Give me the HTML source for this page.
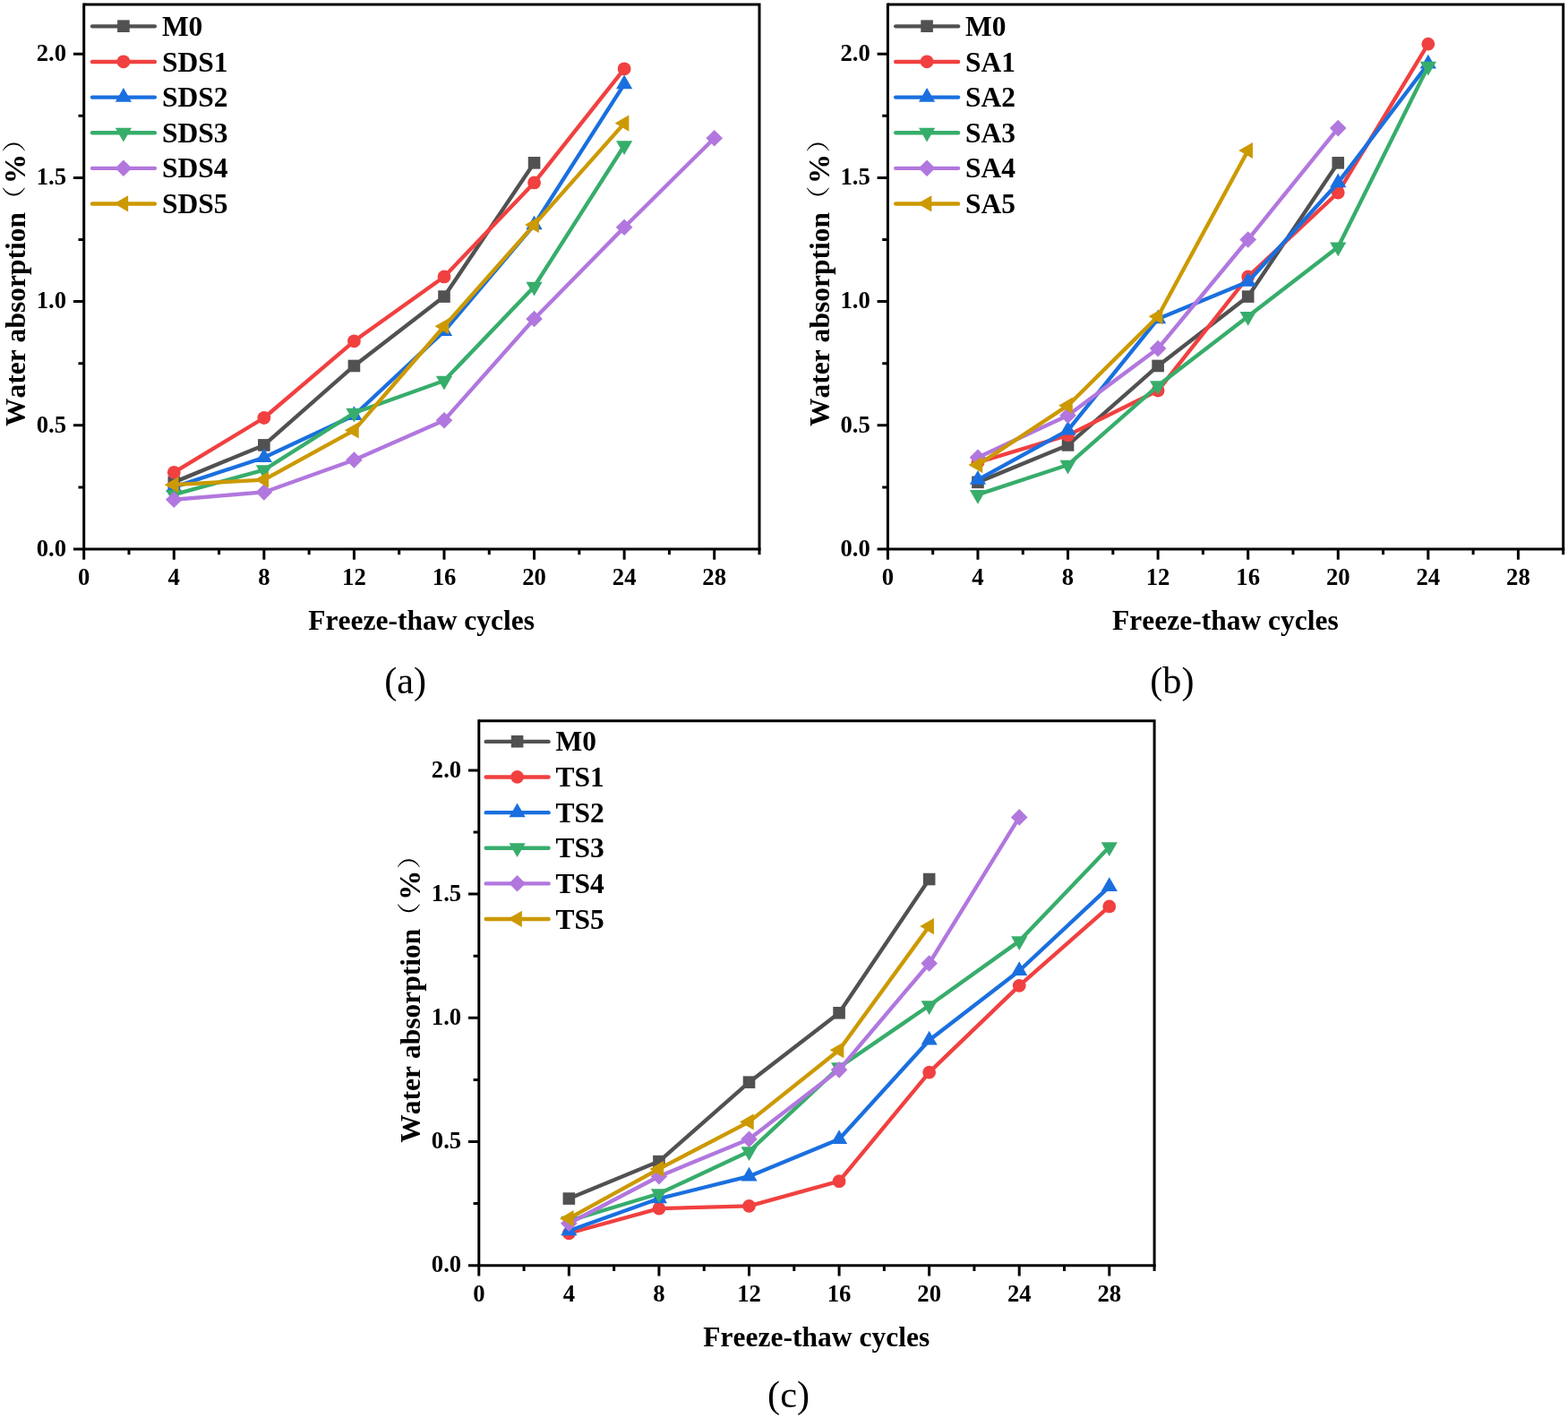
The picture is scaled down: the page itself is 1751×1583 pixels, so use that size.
<!DOCTYPE html>
<html lang="en">
<head>
<meta charset="utf-8">
<title>Water absorption - Freeze-thaw cycles</title>
<style>
html, body { margin: 0; padding: 0; background: #ffffff; }
body { width: 1751px; height: 1583px; overflow: hidden; }
svg { display: block; }
text { font-family: "Liberation Serif", "Noto Serif CJK SC", serif; fill: #000000; font-kerning: none; }
.tk { font-size: 26.7px; font-weight: bold; }
.lg { font-size: 31.5px; font-weight: bold; }
.ax { font-size: 31.53px; font-weight: bold; }
.cp { font-size: 42.3px; font-weight: normal; }
.pr { font-size: 26.5px; font-weight: 400; }
.pc { font-size: 33.4px; }
</style>
</head>
<body>
<svg width="1751" height="1583" viewBox="0 0 1751 1583">
<rect x="0" y="0" width="1751" height="1583" fill="#ffffff"/>
<g>
<polyline points="194.27,538.37 294.84,496.91 395.42,408.46 495.99,331.07 596.56,181.82" fill="none" stroke="#515151" stroke-width="4.35" stroke-linejoin="round" stroke-linecap="round"/>
<rect x="187.47" y="531.57" width="13.6" height="13.6" fill="#515151"/>
<rect x="288.04" y="490.11" width="13.6" height="13.6" fill="#515151"/>
<rect x="388.62" y="401.66" width="13.6" height="13.6" fill="#515151"/>
<rect x="489.19" y="324.27" width="13.6" height="13.6" fill="#515151"/>
<rect x="589.76" y="175.02" width="13.6" height="13.6" fill="#515151"/>
<polyline points="194.27,527.32 294.84,466.51 395.42,380.82 495.99,308.96 596.56,203.93 697.13,76.78" fill="none" stroke="#F14040" stroke-width="4.35" stroke-linejoin="round" stroke-linecap="round"/>
<circle cx="194.27" cy="527.32" r="7.4" fill="#F14040"/>
<circle cx="294.84" cy="466.51" r="7.4" fill="#F14040"/>
<circle cx="395.42" cy="380.82" r="7.4" fill="#F14040"/>
<circle cx="495.99" cy="308.96" r="7.4" fill="#F14040"/>
<circle cx="596.56" cy="203.93" r="7.4" fill="#F14040"/>
<circle cx="697.13" cy="76.78" r="7.4" fill="#F14040"/>
<polyline points="194.27,543.9 294.84,510.73 395.42,463.74 495.99,369.77 596.56,250.92 697.13,93.92" fill="none" stroke="#1A6FDF" stroke-width="4.35" stroke-linejoin="round" stroke-linecap="round"/>
<polygon points="194.27,533.4 203.37,549.15 185.17,549.15" fill="#1A6FDF"/>
<polygon points="294.84,500.23 303.94,515.98 285.74,515.98" fill="#1A6FDF"/>
<polygon points="395.42,453.24 404.52,468.99 386.32,468.99" fill="#1A6FDF"/>
<polygon points="495.99,359.27 505.09,375.02 486.89,375.02" fill="#1A6FDF"/>
<polygon points="596.56,240.42 605.66,256.17 587.46,256.17" fill="#1A6FDF"/>
<polygon points="697.13,83.42 706.23,99.17 688.03,99.17" fill="#1A6FDF"/>
<polyline points="194.27,552.19 294.84,524.55 395.42,460.98 495.99,425.05 596.56,320.02 697.13,162.47" fill="none" stroke="#37AD6B" stroke-width="4.35" stroke-linejoin="round" stroke-linecap="round"/>
<polygon points="185.17,546.94 203.37,546.94 194.27,562.69" fill="#37AD6B"/>
<polygon points="285.74,519.3 303.94,519.3 294.84,535.05" fill="#37AD6B"/>
<polygon points="386.32,455.73 404.52,455.73 395.42,471.48" fill="#37AD6B"/>
<polygon points="486.89,419.8 505.09,419.8 495.99,435.55" fill="#37AD6B"/>
<polygon points="587.46,314.77 605.66,314.77 596.56,330.52" fill="#37AD6B"/>
<polygon points="688.03,157.22 706.23,157.22 697.13,172.97" fill="#37AD6B"/>
<polyline points="194.27,557.72 294.84,549.43 395.42,513.5 495.99,469.27 596.56,355.95 697.13,253.68 797.7,154.18" fill="none" stroke="#B177DE" stroke-width="4.35" stroke-linejoin="round" stroke-linecap="round"/>
<polygon points="194.27,548.42 203.57,557.72 194.27,567.02 184.97,557.72" fill="#B177DE"/>
<polygon points="294.84,540.13 304.14,549.43 294.84,558.73 285.54,549.43" fill="#B177DE"/>
<polygon points="395.42,504.2 404.72,513.5 395.42,522.8 386.12,513.5" fill="#B177DE"/>
<polygon points="495.99,459.97 505.29,469.27 495.99,478.57 486.69,469.27" fill="#B177DE"/>
<polygon points="596.56,346.65 605.86,355.95 596.56,365.25 587.26,355.95" fill="#B177DE"/>
<polygon points="697.13,244.38 706.43,253.68 697.13,262.98 687.83,253.68" fill="#B177DE"/>
<polygon points="797.7,144.88 807,154.18 797.7,163.48 788.4,154.18" fill="#B177DE"/>
<polyline points="194.27,541.14 294.84,535.61 395.42,480.33 495.99,364.24 596.56,250.92 697.13,137.59" fill="none" stroke="#CC9900" stroke-width="4.35" stroke-linejoin="round" stroke-linecap="round"/>
<polygon points="183.77,541.14 199.52,532.04 199.52,550.24" fill="#CC9900"/>
<polygon points="284.34,535.61 300.09,526.51 300.09,544.71" fill="#CC9900"/>
<polygon points="384.92,480.33 400.67,471.23 400.67,489.43" fill="#CC9900"/>
<polygon points="485.49,364.24 501.24,355.14 501.24,373.34" fill="#CC9900"/>
<polygon points="586.06,250.92 601.81,241.82 601.81,260.02" fill="#CC9900"/>
<polygon points="686.63,137.59 702.38,128.49 702.38,146.69" fill="#CC9900"/>
<path d="M93.7 5 H848 V613" fill="none" stroke="#000" stroke-width="3"/>
<path d="M93.7 5 V613 H848" fill="none" stroke="#000" stroke-width="3" stroke-linecap="square"/>
<path d="M93.7 613 v11.8 M143.99 613 v6.2 M194.27 613 v11.8 M244.56 613 v6.2 M294.84 613 v11.8 M345.13 613 v6.2 M395.42 613 v11.8 M445.7 613 v6.2 M495.99 613 v11.8 M546.27 613 v6.2 M596.56 613 v11.8 M646.85 613 v6.2 M697.13 613 v11.8 M747.42 613 v6.2 M797.7 613 v11.8 M847.99 613 v6.2 M93.7 613 h-11.8 M93.7 543.9 h-6.2 M93.7 474.8 h-11.8 M93.7 405.7 h-6.2 M93.7 336.6 h-11.8 M93.7 267.5 h-6.2 M93.7 198.4 h-11.8 M93.7 129.3 h-6.2 M93.7 60.2 h-11.8" fill="none" stroke="#000" stroke-width="3"/>
<text class="tk" x="93.7" y="652.8" text-anchor="middle">0</text>
<text class="tk" x="194.27" y="652.8" text-anchor="middle">4</text>
<text class="tk" x="294.84" y="652.8" text-anchor="middle">8</text>
<text class="tk" x="395.42" y="652.8" text-anchor="middle">12</text>
<text class="tk" x="495.99" y="652.8" text-anchor="middle">16</text>
<text class="tk" x="596.56" y="652.8" text-anchor="middle">20</text>
<text class="tk" x="697.13" y="652.8" text-anchor="middle">24</text>
<text class="tk" x="797.7" y="652.8" text-anchor="middle">28</text>
<text class="tk" x="74.1" y="620.75" text-anchor="end">0.0</text>
<text class="tk" x="74.1" y="482.55" text-anchor="end">0.5</text>
<text class="tk" x="74.1" y="344.35" text-anchor="end">1.0</text>
<text class="tk" x="74.1" y="206.15" text-anchor="end">1.5</text>
<text class="tk" x="74.1" y="67.95" text-anchor="end">2.0</text>
<text class="ax" x="470.7" y="703.3" text-anchor="middle">Freeze-thaw cycles</text>
<text class="ax" transform="translate(27.9 476) rotate(-90)" x="0" y="0">Water absorption <tspan class="pr" x="236.9" dy="-2.75" textLength="31.5" lengthAdjust="spacingAndGlyphs">（</tspan><tspan class="pc" x="270.7" dy="2.75">%</tspan><tspan class="pr" x="305.5" dy="-2.75" textLength="31.5" lengthAdjust="spacingAndGlyphs">）</tspan></text>
<line x1="103" y1="29.35" x2="172.9" y2="29.35" stroke="#515151" stroke-width="4.35" stroke-linecap="round"/>
<rect x="131.1" y="22.4" width="13.6" height="13.6" fill="#515151"/>
<text class="lg" x="180.9" y="39.9">M0</text>
<line x1="103" y1="68.97" x2="172.9" y2="68.97" stroke="#F14040" stroke-width="4.35" stroke-linecap="round"/>
<circle cx="137.9" cy="68.82" r="7.4" fill="#F14040"/>
<text class="lg" x="180.9" y="79.52">SDS1</text>
<line x1="103" y1="108.59" x2="172.9" y2="108.59" stroke="#1A6FDF" stroke-width="4.35" stroke-linecap="round"/>
<polygon points="137.9,97.94 147,113.69 128.8,113.69" fill="#1A6FDF"/>
<text class="lg" x="180.9" y="119.14">SDS2</text>
<line x1="103" y1="148.21" x2="172.9" y2="148.21" stroke="#37AD6B" stroke-width="4.35" stroke-linecap="round"/>
<polygon points="128.8,142.81 147,142.81 137.9,158.56" fill="#37AD6B"/>
<text class="lg" x="180.9" y="158.76">SDS3</text>
<line x1="103" y1="187.83" x2="172.9" y2="187.83" stroke="#B177DE" stroke-width="4.35" stroke-linecap="round"/>
<polygon points="137.9,178.38 147.2,187.68 137.9,196.98 128.6,187.68" fill="#B177DE"/>
<text class="lg" x="180.9" y="198.38">SDS4</text>
<line x1="103" y1="227.45" x2="172.9" y2="227.45" stroke="#CC9900" stroke-width="4.35" stroke-linecap="round"/>
<polygon points="127.4,227.3 143.15,218.2 143.15,236.4" fill="#CC9900"/>
<text class="lg" x="180.9" y="238">SDS5</text>
<text class="cp" x="452.7" y="773.6" text-anchor="middle">(a)</text>
</g>
<g>
<polyline points="1091.97,538.37 1192.54,496.91 1293.12,408.46 1393.69,331.07 1494.26,181.82" fill="none" stroke="#515151" stroke-width="4.35" stroke-linejoin="round" stroke-linecap="round"/>
<rect x="1085.17" y="531.57" width="13.6" height="13.6" fill="#515151"/>
<rect x="1185.74" y="490.11" width="13.6" height="13.6" fill="#515151"/>
<rect x="1286.32" y="401.66" width="13.6" height="13.6" fill="#515151"/>
<rect x="1386.89" y="324.27" width="13.6" height="13.6" fill="#515151"/>
<rect x="1487.46" y="175.02" width="13.6" height="13.6" fill="#515151"/>
<polyline points="1091.97,516.26 1192.54,485.86 1293.12,436.1 1393.69,308.96 1494.26,214.98 1594.83,49.14" fill="none" stroke="#F14040" stroke-width="4.35" stroke-linejoin="round" stroke-linecap="round"/>
<circle cx="1091.97" cy="516.26" r="7.4" fill="#F14040"/>
<circle cx="1192.54" cy="485.86" r="7.4" fill="#F14040"/>
<circle cx="1293.12" cy="436.1" r="7.4" fill="#F14040"/>
<circle cx="1393.69" cy="308.96" r="7.4" fill="#F14040"/>
<circle cx="1494.26" cy="214.98" r="7.4" fill="#F14040"/>
<circle cx="1594.83" cy="49.14" r="7.4" fill="#F14040"/>
<polyline points="1091.97,535.61 1192.54,480.33 1293.12,355.95 1393.69,314.49 1494.26,203.93 1594.83,71.26" fill="none" stroke="#1A6FDF" stroke-width="4.35" stroke-linejoin="round" stroke-linecap="round"/>
<polygon points="1091.97,525.11 1101.07,540.86 1082.87,540.86" fill="#1A6FDF"/>
<polygon points="1192.54,469.83 1201.64,485.58 1183.44,485.58" fill="#1A6FDF"/>
<polygon points="1293.12,345.45 1302.22,361.2 1284.02,361.2" fill="#1A6FDF"/>
<polygon points="1393.69,303.99 1402.79,319.74 1384.59,319.74" fill="#1A6FDF"/>
<polygon points="1494.26,193.43 1503.36,209.18 1485.16,209.18" fill="#1A6FDF"/>
<polygon points="1594.83,60.76 1603.93,76.51 1585.73,76.51" fill="#1A6FDF"/>
<polyline points="1091.97,552.19 1192.54,519.02 1293.12,430.58 1393.69,353.18 1494.26,275.79 1594.83,74.02" fill="none" stroke="#37AD6B" stroke-width="4.35" stroke-linejoin="round" stroke-linecap="round"/>
<polygon points="1082.87,546.94 1101.07,546.94 1091.97,562.69" fill="#37AD6B"/>
<polygon points="1183.44,513.77 1201.64,513.77 1192.54,529.52" fill="#37AD6B"/>
<polygon points="1284.02,425.33 1302.22,425.33 1293.12,441.08" fill="#37AD6B"/>
<polygon points="1384.59,347.93 1402.79,347.93 1393.69,363.68" fill="#37AD6B"/>
<polygon points="1485.16,270.54 1503.36,270.54 1494.26,286.29" fill="#37AD6B"/>
<polygon points="1585.73,68.77 1603.93,68.77 1594.83,84.52" fill="#37AD6B"/>
<polyline points="1091.97,510.73 1192.54,463.74 1293.12,389.12 1393.69,267.5 1494.26,143.12" fill="none" stroke="#B177DE" stroke-width="4.35" stroke-linejoin="round" stroke-linecap="round"/>
<polygon points="1091.97,501.43 1101.27,510.73 1091.97,520.03 1082.67,510.73" fill="#B177DE"/>
<polygon points="1192.54,454.44 1201.84,463.74 1192.54,473.04 1183.24,463.74" fill="#B177DE"/>
<polygon points="1293.12,379.82 1302.42,389.12 1293.12,398.42 1283.82,389.12" fill="#B177DE"/>
<polygon points="1393.69,258.2 1402.99,267.5 1393.69,276.8 1384.39,267.5" fill="#B177DE"/>
<polygon points="1494.26,133.82 1503.56,143.12 1494.26,152.42 1484.96,143.12" fill="#B177DE"/>
<polyline points="1091.97,519.02 1192.54,452.69 1293.12,353.18 1393.69,168" fill="none" stroke="#CC9900" stroke-width="4.35" stroke-linejoin="round" stroke-linecap="round"/>
<polygon points="1081.47,519.02 1097.22,509.92 1097.22,528.12" fill="#CC9900"/>
<polygon points="1182.04,452.69 1197.79,443.59 1197.79,461.79" fill="#CC9900"/>
<polygon points="1282.62,353.18 1298.37,344.08 1298.37,362.28" fill="#CC9900"/>
<polygon points="1383.19,168 1398.94,158.9 1398.94,177.1" fill="#CC9900"/>
<path d="M991.4 5 H1745.7 V613" fill="none" stroke="#000" stroke-width="3"/>
<path d="M991.4 5 V613 H1745.7" fill="none" stroke="#000" stroke-width="3" stroke-linecap="square"/>
<path d="M991.4 613 v11.8 M1041.69 613 v6.2 M1091.97 613 v11.8 M1142.26 613 v6.2 M1192.54 613 v11.8 M1242.83 613 v6.2 M1293.12 613 v11.8 M1343.4 613 v6.2 M1393.69 613 v11.8 M1443.97 613 v6.2 M1494.26 613 v11.8 M1544.55 613 v6.2 M1594.83 613 v11.8 M1645.12 613 v6.2 M1695.4 613 v11.8 M1745.69 613 v6.2 M991.4 613 h-11.8 M991.4 543.9 h-6.2 M991.4 474.8 h-11.8 M991.4 405.7 h-6.2 M991.4 336.6 h-11.8 M991.4 267.5 h-6.2 M991.4 198.4 h-11.8 M991.4 129.3 h-6.2 M991.4 60.2 h-11.8" fill="none" stroke="#000" stroke-width="3"/>
<text class="tk" x="991.4" y="652.8" text-anchor="middle">0</text>
<text class="tk" x="1091.97" y="652.8" text-anchor="middle">4</text>
<text class="tk" x="1192.54" y="652.8" text-anchor="middle">8</text>
<text class="tk" x="1293.12" y="652.8" text-anchor="middle">12</text>
<text class="tk" x="1393.69" y="652.8" text-anchor="middle">16</text>
<text class="tk" x="1494.26" y="652.8" text-anchor="middle">20</text>
<text class="tk" x="1594.83" y="652.8" text-anchor="middle">24</text>
<text class="tk" x="1695.4" y="652.8" text-anchor="middle">28</text>
<text class="tk" x="971.8" y="620.75" text-anchor="end">0.0</text>
<text class="tk" x="971.8" y="482.55" text-anchor="end">0.5</text>
<text class="tk" x="971.8" y="344.35" text-anchor="end">1.0</text>
<text class="tk" x="971.8" y="206.15" text-anchor="end">1.5</text>
<text class="tk" x="971.8" y="67.95" text-anchor="end">2.0</text>
<text class="ax" x="1368.4" y="703.3" text-anchor="middle">Freeze-thaw cycles</text>
<text class="ax" transform="translate(926.2 476) rotate(-90)" x="0" y="0">Water absorption <tspan class="pr" x="236.9" dy="-2.75" textLength="31.5" lengthAdjust="spacingAndGlyphs">（</tspan><tspan class="pc" x="270.7" dy="2.75">%</tspan><tspan class="pr" x="305.5" dy="-2.75" textLength="31.5" lengthAdjust="spacingAndGlyphs">）</tspan></text>
<line x1="1000.2" y1="29.35" x2="1070.1" y2="29.35" stroke="#515151" stroke-width="4.35" stroke-linecap="round"/>
<rect x="1028.3" y="22.4" width="13.6" height="13.6" fill="#515151"/>
<text class="lg" x="1078.1" y="39.9">M0</text>
<line x1="1000.2" y1="68.97" x2="1070.1" y2="68.97" stroke="#F14040" stroke-width="4.35" stroke-linecap="round"/>
<circle cx="1035.1" cy="68.82" r="7.4" fill="#F14040"/>
<text class="lg" x="1078.1" y="79.52">SA1</text>
<line x1="1000.2" y1="108.59" x2="1070.1" y2="108.59" stroke="#1A6FDF" stroke-width="4.35" stroke-linecap="round"/>
<polygon points="1035.1,97.94 1044.2,113.69 1026,113.69" fill="#1A6FDF"/>
<text class="lg" x="1078.1" y="119.14">SA2</text>
<line x1="1000.2" y1="148.21" x2="1070.1" y2="148.21" stroke="#37AD6B" stroke-width="4.35" stroke-linecap="round"/>
<polygon points="1026,142.81 1044.2,142.81 1035.1,158.56" fill="#37AD6B"/>
<text class="lg" x="1078.1" y="158.76">SA3</text>
<line x1="1000.2" y1="187.83" x2="1070.1" y2="187.83" stroke="#B177DE" stroke-width="4.35" stroke-linecap="round"/>
<polygon points="1035.1,178.38 1044.4,187.68 1035.1,196.98 1025.8,187.68" fill="#B177DE"/>
<text class="lg" x="1078.1" y="198.38">SA4</text>
<line x1="1000.2" y1="227.45" x2="1070.1" y2="227.45" stroke="#CC9900" stroke-width="4.35" stroke-linecap="round"/>
<polygon points="1024.6,227.3 1040.35,218.2 1040.35,236.4" fill="#CC9900"/>
<text class="lg" x="1078.1" y="238">SA5</text>
<text class="cp" x="1308.9" y="773.6" text-anchor="middle">(b)</text>
</g>
<g>
<polyline points="635.37,1338.07 735.94,1296.61 836.52,1208.16 937.09,1130.77 1037.66,981.52" fill="none" stroke="#515151" stroke-width="4.35" stroke-linejoin="round" stroke-linecap="round"/>
<rect x="628.57" y="1331.27" width="13.6" height="13.6" fill="#515151"/>
<rect x="729.14" y="1289.81" width="13.6" height="13.6" fill="#515151"/>
<rect x="829.72" y="1201.36" width="13.6" height="13.6" fill="#515151"/>
<rect x="930.29" y="1123.97" width="13.6" height="13.6" fill="#515151"/>
<rect x="1030.86" y="974.72" width="13.6" height="13.6" fill="#515151"/>
<polyline points="635.37,1376.77 735.94,1349.13 836.52,1346.36 937.09,1318.72 1037.66,1197.11 1138.23,1100.37 1238.8,1011.92" fill="none" stroke="#F14040" stroke-width="4.35" stroke-linejoin="round" stroke-linecap="round"/>
<circle cx="635.37" cy="1376.77" r="7.4" fill="#F14040"/>
<circle cx="735.94" cy="1349.13" r="7.4" fill="#F14040"/>
<circle cx="836.52" cy="1346.36" r="7.4" fill="#F14040"/>
<circle cx="937.09" cy="1318.72" r="7.4" fill="#F14040"/>
<circle cx="1037.66" cy="1197.11" r="7.4" fill="#F14040"/>
<circle cx="1138.23" cy="1100.37" r="7.4" fill="#F14040"/>
<circle cx="1238.8" cy="1011.92" r="7.4" fill="#F14040"/>
<polyline points="635.37,1374 735.94,1338.07 836.52,1313.2 937.09,1271.74 1037.66,1161.18 1138.23,1083.78 1238.8,989.81" fill="none" stroke="#1A6FDF" stroke-width="4.35" stroke-linejoin="round" stroke-linecap="round"/>
<polygon points="635.37,1363.5 644.47,1379.25 626.27,1379.25" fill="#1A6FDF"/>
<polygon points="735.94,1327.57 745.04,1343.32 726.84,1343.32" fill="#1A6FDF"/>
<polygon points="836.52,1302.7 845.62,1318.45 827.42,1318.45" fill="#1A6FDF"/>
<polygon points="937.09,1261.24 946.19,1276.99 927.99,1276.99" fill="#1A6FDF"/>
<polygon points="1037.66,1150.68 1046.76,1166.43 1028.56,1166.43" fill="#1A6FDF"/>
<polygon points="1138.23,1073.28 1147.33,1089.03 1129.13,1089.03" fill="#1A6FDF"/>
<polygon points="1238.8,979.31 1247.9,995.06 1229.7,995.06" fill="#1A6FDF"/>
<polyline points="635.37,1362.95 735.94,1332.54 836.52,1285.56 937.09,1191.58 1037.66,1122.48 1138.23,1050.62 1238.8,945.58" fill="none" stroke="#37AD6B" stroke-width="4.35" stroke-linejoin="round" stroke-linecap="round"/>
<polygon points="626.27,1357.7 644.47,1357.7 635.37,1373.45" fill="#37AD6B"/>
<polygon points="726.84,1327.29 745.04,1327.29 735.94,1343.04" fill="#37AD6B"/>
<polygon points="827.42,1280.31 845.62,1280.31 836.52,1296.06" fill="#37AD6B"/>
<polygon points="927.99,1186.33 946.19,1186.33 937.09,1202.08" fill="#37AD6B"/>
<polygon points="1028.56,1117.23 1046.76,1117.23 1037.66,1132.98" fill="#37AD6B"/>
<polygon points="1129.13,1045.37 1147.33,1045.37 1138.23,1061.12" fill="#37AD6B"/>
<polygon points="1229.7,940.33 1247.9,940.33 1238.8,956.08" fill="#37AD6B"/>
<polyline points="635.37,1365.71 735.94,1313.2 836.52,1271.74 937.09,1194.34 1037.66,1075.49 1138.23,912.42" fill="none" stroke="#B177DE" stroke-width="4.35" stroke-linejoin="round" stroke-linecap="round"/>
<polygon points="635.37,1356.41 644.67,1365.71 635.37,1375.01 626.07,1365.71" fill="#B177DE"/>
<polygon points="735.94,1303.9 745.24,1313.2 735.94,1322.5 726.64,1313.2" fill="#B177DE"/>
<polygon points="836.52,1262.44 845.82,1271.74 836.52,1281.04 827.22,1271.74" fill="#B177DE"/>
<polygon points="937.09,1185.04 946.39,1194.34 937.09,1203.64 927.79,1194.34" fill="#B177DE"/>
<polygon points="1037.66,1066.19 1046.96,1075.49 1037.66,1084.79 1028.36,1075.49" fill="#B177DE"/>
<polygon points="1138.23,903.12 1147.53,912.42 1138.23,921.72 1128.93,912.42" fill="#B177DE"/>
<polyline points="635.37,1360.18 735.94,1304.9 836.52,1252.39 937.09,1172.23 1037.66,1034.03" fill="none" stroke="#CC9900" stroke-width="4.35" stroke-linejoin="round" stroke-linecap="round"/>
<polygon points="624.87,1360.18 640.62,1351.08 640.62,1369.28" fill="#CC9900"/>
<polygon points="725.44,1304.9 741.19,1295.8 741.19,1314" fill="#CC9900"/>
<polygon points="826.02,1252.39 841.77,1243.29 841.77,1261.49" fill="#CC9900"/>
<polygon points="926.59,1172.23 942.34,1163.13 942.34,1181.33" fill="#CC9900"/>
<polygon points="1027.16,1034.03 1042.91,1024.93 1042.91,1043.13" fill="#CC9900"/>
<path d="M534.8 804.7 H1289.1 V1412.7" fill="none" stroke="#000" stroke-width="3"/>
<path d="M534.8 804.7 V1412.7 H1289.1" fill="none" stroke="#000" stroke-width="3" stroke-linecap="square"/>
<path d="M534.8 1412.7 v11.8 M585.09 1412.7 v6.2 M635.37 1412.7 v11.8 M685.66 1412.7 v6.2 M735.94 1412.7 v11.8 M786.23 1412.7 v6.2 M836.52 1412.7 v11.8 M886.8 1412.7 v6.2 M937.09 1412.7 v11.8 M987.37 1412.7 v6.2 M1037.66 1412.7 v11.8 M1087.95 1412.7 v6.2 M1138.23 1412.7 v11.8 M1188.52 1412.7 v6.2 M1238.8 1412.7 v11.8 M1289.09 1412.7 v6.2 M534.8 1412.7 h-11.8 M534.8 1343.6 h-6.2 M534.8 1274.5 h-11.8 M534.8 1205.4 h-6.2 M534.8 1136.3 h-11.8 M534.8 1067.2 h-6.2 M534.8 998.1 h-11.8 M534.8 929 h-6.2 M534.8 859.9 h-11.8" fill="none" stroke="#000" stroke-width="3"/>
<text class="tk" x="534.8" y="1452.5" text-anchor="middle">0</text>
<text class="tk" x="635.37" y="1452.5" text-anchor="middle">4</text>
<text class="tk" x="735.94" y="1452.5" text-anchor="middle">8</text>
<text class="tk" x="836.52" y="1452.5" text-anchor="middle">12</text>
<text class="tk" x="937.09" y="1452.5" text-anchor="middle">16</text>
<text class="tk" x="1037.66" y="1452.5" text-anchor="middle">20</text>
<text class="tk" x="1138.23" y="1452.5" text-anchor="middle">24</text>
<text class="tk" x="1238.8" y="1452.5" text-anchor="middle">28</text>
<text class="tk" x="515.2" y="1420.45" text-anchor="end">0.0</text>
<text class="tk" x="515.2" y="1282.25" text-anchor="end">0.5</text>
<text class="tk" x="515.2" y="1144.05" text-anchor="end">1.0</text>
<text class="tk" x="515.2" y="1005.85" text-anchor="end">1.5</text>
<text class="tk" x="515.2" y="867.65" text-anchor="end">2.0</text>
<text class="ax" x="911.8" y="1503" text-anchor="middle">Freeze-thaw cycles</text>
<text class="ax" transform="translate(469 1275.7) rotate(-90)" x="0" y="0">Water absorption <tspan class="pr" x="236.9" dy="-2.75" textLength="31.5" lengthAdjust="spacingAndGlyphs">（</tspan><tspan class="pc" x="270.7" dy="2.75">%</tspan><tspan class="pr" x="305.5" dy="-2.75" textLength="31.5" lengthAdjust="spacingAndGlyphs">）</tspan></text>
<line x1="542.7" y1="827.9" x2="612.6" y2="827.9" stroke="#515151" stroke-width="4.35" stroke-linecap="round"/>
<rect x="570.8" y="820.95" width="13.6" height="13.6" fill="#515151"/>
<text class="lg" x="620.6" y="838.45">M0</text>
<line x1="542.7" y1="867.52" x2="612.6" y2="867.52" stroke="#F14040" stroke-width="4.35" stroke-linecap="round"/>
<circle cx="577.6" cy="867.37" r="7.4" fill="#F14040"/>
<text class="lg" x="620.6" y="878.07">TS1</text>
<line x1="542.7" y1="907.14" x2="612.6" y2="907.14" stroke="#1A6FDF" stroke-width="4.35" stroke-linecap="round"/>
<polygon points="577.6,896.49 586.7,912.24 568.5,912.24" fill="#1A6FDF"/>
<text class="lg" x="620.6" y="917.69">TS2</text>
<line x1="542.7" y1="946.76" x2="612.6" y2="946.76" stroke="#37AD6B" stroke-width="4.35" stroke-linecap="round"/>
<polygon points="568.5,941.36 586.7,941.36 577.6,957.11" fill="#37AD6B"/>
<text class="lg" x="620.6" y="957.31">TS3</text>
<line x1="542.7" y1="986.38" x2="612.6" y2="986.38" stroke="#B177DE" stroke-width="4.35" stroke-linecap="round"/>
<polygon points="577.6,976.93 586.9,986.23 577.6,995.53 568.3,986.23" fill="#B177DE"/>
<text class="lg" x="620.6" y="996.93">TS4</text>
<line x1="542.7" y1="1026" x2="612.6" y2="1026" stroke="#CC9900" stroke-width="4.35" stroke-linecap="round"/>
<polygon points="567.1,1025.85 582.85,1016.75 582.85,1034.95" fill="#CC9900"/>
<text class="lg" x="620.6" y="1036.55">TS5</text>
<text class="cp" x="880.55" y="1570.8" text-anchor="middle">(c)</text>
</g>
</svg>
</body>
</html>
